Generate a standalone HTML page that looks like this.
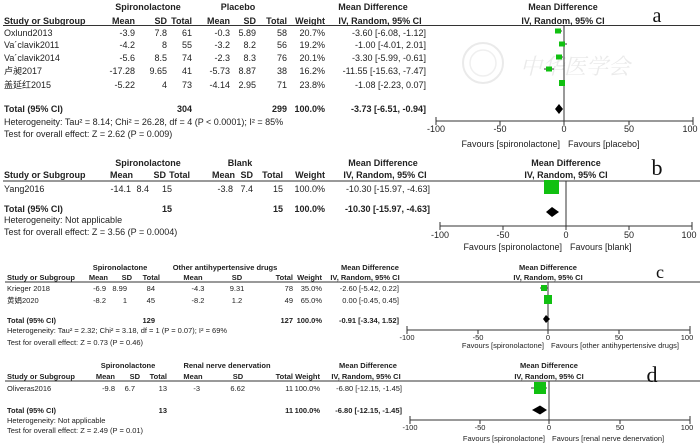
<!DOCTYPE html>
<html><head><meta charset="utf-8"><style>
html,body{margin:0;padding:0;background:#fff;}
svg{display:block;}
text{font-family:"Liberation Sans","Noto Sans CJK SC",sans-serif;fill:#222;}
.a{font-size:9px;}
.s{font-size:7.5px;}
.b{font-weight:bold;}
.e{text-anchor:end;}
.m{text-anchor:middle;}
.L{font-family:"Liberation Serif",serif;fill:#111;}
</style></head><body>
<svg width="700" height="447" viewBox="0 0 700 447" xmlns="http://www.w3.org/2000/svg">
<!-- watermark -->
<g opacity="0.3">
<circle cx="483" cy="63" r="20" fill="none" stroke="#bbb" stroke-width="2"/>
<circle cx="483" cy="63" r="13" fill="none" stroke="#ccc" stroke-width="1.5"/>
<text x="520" y="74" style="font-size:22px;font-style:italic;fill:#bbb;font-family:'Noto Serif CJK SC',serif">中华医学会</text>
</g>

<!-- ===== Panel a ===== -->
<g class="a">
<text x="148" y="10" class="m b">Spironolactone</text>
<text x="238" y="10" class="m b">Placebo</text>
<text x="373" y="10" class="m b">Mean Difference</text>
<text x="563" y="10" class="m b">Mean Difference</text>
<text x="4" y="24" class="b">Study or Subgroup</text>
<text x="135" y="24" class="e b">Mean</text><text x="167" y="24" class="e b">SD</text><text x="192" y="24" class="e b">Total</text>
<text x="230" y="24" class="e b">Mean</text><text x="256" y="24" class="e b">SD</text><text x="287" y="24" class="e b">Total</text>
<text x="325" y="24" class="e b">Weight</text>
<text x="380" y="24" class="m b">IV, Random, 95% CI</text>
<text x="563" y="24" class="m b">IV, Random, 95% CI</text>
</g>
<line x1="3" y1="25.5" x2="700" y2="25.5" stroke="#333" stroke-width="1"/>
<text x="657" y="22" class="L m" style="font-size:20px">a</text>
<g class="a">
<text x="4" y="36">Oxlund2013</text><text x="135" y="36" class="e">-3.9</text><text x="167" y="36" class="e">7.8</text><text x="192" y="36" class="e">61</text><text x="230" y="36" class="e">-0.3</text><text x="256" y="36" class="e">5.89</text><text x="287" y="36" class="e">58</text><text x="325" y="36" class="e">20.7%</text><text x="426" y="36" class="e">-3.60 [-6.08, -1.12]</text>
<text x="4" y="48">Va´clavik2011</text><text x="135" y="48" class="e">-4.2</text><text x="167" y="48" class="e">8</text><text x="192" y="48" class="e">55</text><text x="230" y="48" class="e">-3.2</text><text x="256" y="48" class="e">8.2</text><text x="287" y="48" class="e">56</text><text x="325" y="48" class="e">19.2%</text><text x="426" y="48" class="e">-1.00 [-4.01, 2.01]</text>
<text x="4" y="61">Va´clavik2014</text><text x="135" y="61" class="e">-5.6</text><text x="167" y="61" class="e">8.5</text><text x="192" y="61" class="e">74</text><text x="230" y="61" class="e">-2.3</text><text x="256" y="61" class="e">8.3</text><text x="287" y="61" class="e">76</text><text x="325" y="61" class="e">20.1%</text><text x="426" y="61" class="e">-3.30 [-5.99, -0.61]</text>
<text x="4" y="74">卢昶2017</text><text x="135" y="74" class="e">-17.28</text><text x="167" y="74" class="e">9.65</text><text x="192" y="74" class="e">41</text><text x="230" y="74" class="e">-5.73</text><text x="256" y="74" class="e">8.87</text><text x="287" y="74" class="e">38</text><text x="325" y="74" class="e">16.2%</text><text x="426" y="74" class="e">-11.55 [-15.63, -7.47]</text>
<text x="4" y="88">盖延红2015</text><text x="135" y="88" class="e">-5.22</text><text x="167" y="88" class="e">4</text><text x="192" y="88" class="e">73</text><text x="230" y="88" class="e">-4.14</text><text x="256" y="88" class="e">2.95</text><text x="287" y="88" class="e">71</text><text x="325" y="88" class="e">23.8%</text><text x="426" y="88" class="e">-1.08 [-2.23, 0.07]</text>
<text x="4" y="112" class="b">Total (95% CI)</text><text x="192" y="112" class="e b">304</text><text x="287" y="112" class="e b">299</text><text x="325" y="112" class="e b">100.0%</text><text x="426" y="112" class="e b">-3.73 [-6.51, -0.94]</text>
<text x="4" y="125">Heterogeneity: Tau² = 8.14; Chi² = 26.28, df = 4 (P &lt; 0.0001); I² = 85%</text>
<text x="4" y="137">Test for overall effect: Z = 2.62 (P = 0.009)</text>
</g>
<g stroke="#333" stroke-width="1">
<line x1="564" y1="25" x2="564" y2="121"/>
<line x1="436" y1="121" x2="693" y2="121"/>
<line x1="436" y1="117" x2="436" y2="125"/><line x1="500" y1="121" x2="500" y2="125"/><line x1="564" y1="121" x2="564" y2="125"/><line x1="629" y1="121" x2="629" y2="125"/><line x1="693" y1="117" x2="693" y2="125"/>
<line x1="555" y1="31" x2="562" y2="31"/><line x1="559" y1="44" x2="567" y2="44"/><line x1="556" y1="57" x2="563" y2="57"/><line x1="544" y1="69" x2="554" y2="69"/><line x1="561" y1="83" x2="564" y2="83"/>
</g>
<g fill="#11c011">
<rect x="555" y="28.5" width="6" height="5"/><rect x="559" y="41.5" width="6" height="5"/><rect x="556" y="54.5" width="6" height="5"/><rect x="546" y="66.5" width="6" height="5"/><rect x="559" y="80" width="6" height="6"/>
</g>
<polygon points="555,109 559,104 563,109 559,114" fill="#000"/>
<g class="a">
<text x="436" y="132" class="m">-100</text><text x="500" y="132" class="m">-50</text><text x="564" y="132" class="m">0</text><text x="629" y="132" class="m">50</text><text x="690" y="132" class="m">100</text>
<text x="560" y="147" class="e">Favours [spironolactone]</text><text x="568" y="147">Favours [placebo]</text>
</g>

<!-- ===== Panel b ===== -->
<g class="a">
<text x="148" y="166" class="m b">Spironolactone</text>
<text x="240" y="166" class="m b">Blank</text>
<text x="383" y="166" class="m b">Mean Difference</text>
<text x="566" y="166" class="m b">Mean Difference</text>
<text x="4" y="178" class="b">Study or Subgroup</text>
<text x="133" y="178" class="e b">Mean</text><text x="166" y="178" class="e b">SD</text><text x="190" y="178" class="e b">Total</text>
<text x="235" y="178" class="e b">Mean</text><text x="253" y="178" class="e b">SD</text><text x="283" y="178" class="e b">Total</text>
<text x="325" y="178" class="e b">Weight</text>
<text x="385" y="178" class="m b">IV, Random, 95% CI</text>
<text x="566" y="178" class="m b">IV, Random, 95% CI</text>
</g>
<line x1="3" y1="181" x2="700" y2="181" stroke="#333" stroke-width="1"/>
<text x="657" y="175" class="L m" style="font-size:22px">b</text>
<g class="a">
<text x="4" y="192">Yang2016</text><text x="131" y="192" class="e">-14.1</text><text x="149" y="192" class="e">8.4</text><text x="172" y="192" class="e">15</text><text x="233" y="192" class="e">-3.8</text><text x="253" y="192" class="e">7.4</text><text x="283" y="192" class="e">15</text><text x="325" y="192" class="e">100.0%</text><text x="430" y="192" class="e">-10.30 [-15.97, -4.63]</text>
<text x="4" y="212" class="b">Total (95% CI)</text><text x="172" y="212" class="e b">15</text><text x="283" y="212" class="e b">15</text><text x="325" y="212" class="e b">100.0%</text><text x="430" y="212" class="e b">-10.30 [-15.97, -4.63]</text>
<text x="4" y="223">Heterogeneity: Not applicable</text>
<text x="4" y="235">Test for overall effect: Z = 3.56 (P = 0.0004)</text>
</g>
<g stroke="#333" stroke-width="1">
<line x1="566" y1="181" x2="566" y2="226"/>
<line x1="440" y1="226" x2="692" y2="226"/>
<line x1="440" y1="222" x2="440" y2="230"/><line x1="503" y1="226" x2="503" y2="230"/><line x1="566" y1="226" x2="566" y2="230"/><line x1="629" y1="226" x2="629" y2="230"/><line x1="692" y1="222" x2="692" y2="230"/>
</g>
<rect x="544" y="180" width="15" height="14" fill="#11c011"/>
<polygon points="546,212 552,207 559,212 552,217" fill="#000"/>
<g class="a">
<text x="440" y="238" class="m">-100</text><text x="503" y="238" class="m">-50</text><text x="566" y="238" class="m">0</text><text x="629" y="238" class="m">50</text><text x="689" y="238" class="m">100</text>
<text x="562" y="250" class="e">Favours [spironolactone]</text><text x="570" y="250">Favours [blank]</text>
</g>

<!-- ===== Panel c ===== -->
<g class="s">
<text x="120" y="270" class="m b">Spironolactone</text>
<text x="225" y="270" class="m b">Other antihypertensive drugs</text>
<text x="370" y="270" class="m b">Mean Difference</text>
<text x="548" y="270" class="m b">Mean Difference</text>
<text x="7" y="280" class="b">Study or Subgroup</text>
<text x="108" y="280" class="e b">Mean</text><text x="132" y="280" class="e b">SD</text><text x="160" y="280" class="e b">Total</text>
<text x="193" y="280" class="m b">Mean</text><text x="237" y="280" class="m b">SD</text><text x="293" y="280" class="e b">Total</text>
<text x="322" y="280" class="e b">Weight</text>
<text x="365" y="280" class="m b">IV, Random, 95% CI</text>
<text x="548" y="280" class="m b">IV, Random, 95% CI</text>
</g>
<line x1="5" y1="282" x2="700" y2="282" stroke="#333" stroke-width="1"/>
<text x="660" y="278" class="L m" style="font-size:18px">c</text>
<g class="s">
<text x="7" y="291">Krieger 2018</text><text x="106" y="291" class="e">-6.9</text><text x="127" y="291" class="e">8.99</text><text x="155" y="291" class="e">84</text><text x="198" y="291" class="m">-4.3</text><text x="237" y="291" class="m">9.31</text><text x="293" y="291" class="e">78</text><text x="322" y="291" class="e">35.0%</text><text x="399" y="291" class="e">-2.60 [-5.42, 0.22]</text>
<text x="7" y="303">黄娟2020</text><text x="106" y="303" class="e">-8.2</text><text x="127" y="303" class="e">1</text><text x="155" y="303" class="e">45</text><text x="198" y="303" class="m">-8.2</text><text x="237" y="303" class="m">1.2</text><text x="293" y="303" class="e">49</text><text x="322" y="303" class="e">65.0%</text><text x="399" y="303" class="e">0.00 [-0.45, 0.45]</text>
<text x="7" y="323" class="b">Total (95% CI)</text><text x="155" y="323" class="e b">129</text><text x="293" y="323" class="e b">127</text><text x="322" y="323" class="e b">100.0%</text><text x="399" y="323" class="e b">-0.91 [-3.34, 1.52]</text>
<text x="7" y="333">Heterogeneity: Tau² = 2.32; Chi² = 3.18, df = 1 (P = 0.07); I² = 69%</text>
<text x="7" y="345">Test for overall effect: Z = 0.73 (P = 0.46)</text>
</g>
<g stroke="#333" stroke-width="1">
<line x1="548" y1="282" x2="548" y2="330"/>
<line x1="407" y1="330" x2="690" y2="330"/>
<line x1="407" y1="326" x2="407" y2="334"/><line x1="478" y1="330" x2="478" y2="334"/><line x1="548" y1="330" x2="548" y2="334"/><line x1="619" y1="330" x2="619" y2="334"/><line x1="690" y1="326" x2="690" y2="334"/>
<line x1="540" y1="288" x2="548" y2="288"/>
</g>
<rect x="541" y="285" width="6" height="6" fill="#11c011"/>
<rect x="544" y="295" width="8" height="9" fill="#11c011"/>
<polygon points="543,319 546,315 550,319 546,323" fill="#000"/>
<g class="s">
<text x="407" y="340" class="m">-100</text><text x="478" y="340" class="m">-50</text><text x="548" y="340" class="m">0</text><text x="619" y="340" class="m">50</text><text x="687" y="340" class="m">100</text>
<text x="544" y="348" class="e">Favours [spironolactone]</text><text x="551" y="348">Favours [other antihypertensive drugs]</text>
</g>

<!-- ===== Panel d ===== -->
<g class="s">
<text x="128" y="368" class="m b">Spironolactone</text>
<text x="227" y="368" class="m b">Renal nerve denervation</text>
<text x="368" y="368" class="m b">Mean Difference</text>
<text x="549" y="368" class="m b">Mean Difference</text>
<text x="7" y="379" class="b">Study or Subgroup</text>
<text x="115" y="379" class="e b">Mean</text><text x="140" y="379" class="e b">SD</text><text x="167" y="379" class="e b">Total</text>
<text x="193" y="379" class="m b">Mean</text><text x="238" y="379" class="m b">SD</text><text x="293" y="379" class="e b">Total</text>
<text x="320" y="379" class="e b">Weight</text>
<text x="366" y="379" class="m b">IV, Random, 95% CI</text>
<text x="549" y="379" class="m b">IV, Random, 95% CI</text>
</g>
<line x1="5" y1="381" x2="700" y2="381" stroke="#333" stroke-width="1"/>
<text x="652" y="382" class="L m" style="font-size:22px">d</text>
<g class="s">
<text x="7" y="391">Oliveras2016</text><text x="115" y="391" class="e">-9.8</text><text x="135" y="391" class="e">6.7</text><text x="167" y="391" class="e">13</text><text x="200" y="391" class="e">-3</text><text x="245" y="391" class="e">6.62</text><text x="293" y="391" class="e">11</text><text x="320" y="391" class="e">100.0%</text><text x="402" y="391" class="e">-6.80 [-12.15, -1.45]</text>
<text x="7" y="413" class="b">Total (95% CI)</text><text x="167" y="413" class="e b">13</text><text x="293" y="413" class="e b">11</text><text x="320" y="413" class="e b">100.0%</text><text x="402" y="413" class="e b">-6.80 [-12.15, -1.45]</text>
<text x="7" y="423">Heterogeneity: Not applicable</text>
<text x="7" y="433">Test for overall effect: Z = 2.49 (P = 0.01)</text>
</g>
<g stroke="#333" stroke-width="1">
<line x1="549" y1="381" x2="549" y2="420"/>
<line x1="410" y1="420" x2="690" y2="420"/>
<line x1="410" y1="416" x2="410" y2="424"/><line x1="480" y1="420" x2="480" y2="424"/><line x1="549" y1="420" x2="549" y2="424"/><line x1="620" y1="420" x2="620" y2="424"/><line x1="690" y1="416" x2="690" y2="424"/>
<line x1="531" y1="388" x2="547" y2="388"/>
</g>
<rect x="534" y="382" width="12" height="12" fill="#11c011"/>
<polygon points="532,410 540,405.5 547,410 540,414.5" fill="#000"/>
<g class="s">
<text x="410" y="430" class="m">-100</text><text x="480" y="430" class="m">-50</text><text x="549" y="430" class="m">0</text><text x="620" y="430" class="m">50</text><text x="687" y="430" class="m">100</text>
<text x="545" y="441" class="e">Favours [spironolactone]</text><text x="552" y="441">Favours [renal nerve denervation]</text>
</g>
</svg>
</body></html>
